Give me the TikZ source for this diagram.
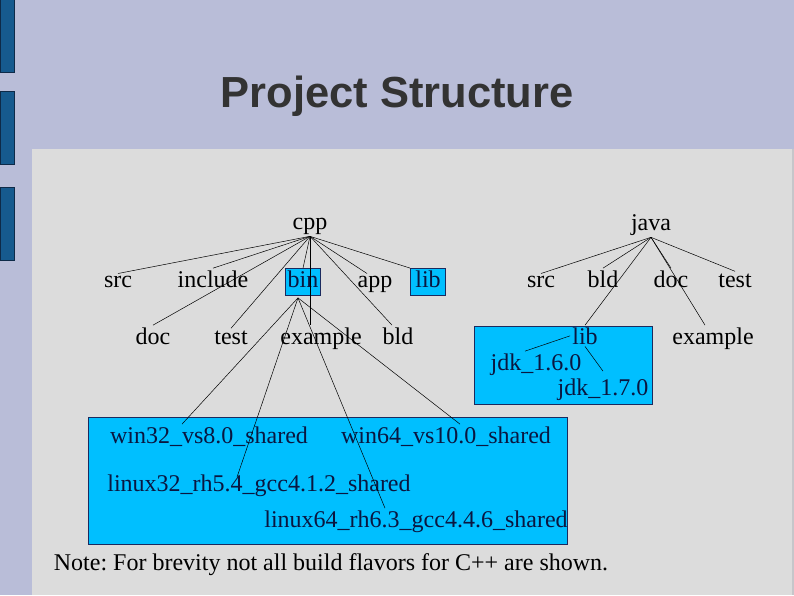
\documentclass[tikz,border=0pt]{standalone}
\usepackage{fontspec}
\setmainfont{Liberation Serif}
\newfontfamily\titlefont{Liberation Sans}
\usepackage{tikz}
\usetikzlibrary{positioning, calc}
\definecolor{slideBack}{HTML}{B9BDD8}
\definecolor{panelGray}{HTML}{DCDCDC}
\definecolor{panelEdge}{HTML}{C6C6CA}
\definecolor{barBlue}{HTML}{165A8E}
\definecolor{barEdge}{HTML}{0E2A48}
\definecolor{boxCyan}{HTML}{00BFFF}
\definecolor{boxEdge}{HTML}{1B2A5E}
\definecolor{boxText}{HTML}{0A1640}
\definecolor{titleGray}{HTML}{333333}
\frenchspacing

\begin{document}
\begin{tikzpicture}[
    x=1pt, y=-1pt,
    dir/.style={font=\fontsize{24}{28}\selectfont, inner sep=2pt, anchor=base},
    dirbox/.style={dir, fill=boxCyan, draw=boxEdge, line width=0.8pt, text=boxText,
                   text height=16pt, text depth=6pt, inner sep=2.5pt, minimum width=35pt},
    flavor/.style={dir, text=boxText},
    link/.style={line width=0.5pt, black},
    bar/.style={fill=barBlue, draw=barEdge, line width=0.8pt},
    group/.style={fill=boxCyan, draw=boxEdge, line width=0.8pt},
]
\useasboundingbox (0,0) rectangle (794,595);

% ── Slide background ──
\fill[slideBack] (0,0) rectangle (794,595);
\fill[panelEdge] (32,149) rectangle (794,595);
\fill[panelGray] (32,149) rectangle (792,595);
\draw[bar] (0,-2) rectangle (14,72);
\draw[bar] (0,91) rectangle (14,164);
\draw[bar] (0,187) rectangle (14,260);

% ── Title ──
\node[font=\titlefont\bfseries\fontsize{43.5}{50}\selectfont, text=titleGray, anchor=base]
    (title) at (397,107) {Project Structure};

% ── Group boxes ──
\draw[group] (474,326) rectangle (652,404);
\draw[group] (88,417) rectangle (567,544);

% ── cpp tree ──
\node[dir] (cpp) at (310,229) {cpp};
\node[dir] (src) at (118,287) {src};
\node[dir] (inc) at (213,287) {include};
\node[dirbox] (bin) at (303,287) {bin};
\node[dir] (app) at (375,287) {app};
\node[dirbox] (lib) at (428,287) {lib};
\node[dir] (doc) at (153,344) {doc};
\node[dir] (test) at (231,344) {test};
\node[dir] (example) at (321,344) {example};
\node[dir] (bld) at (398,344) {bld};

% ── Build flavors ──
\node[flavor] (w32) at (209,443) {win32\_vs8.0\_shared};
\node[flavor] (w64) at (446,443) {win64\_vs10.0\_shared};
\node[flavor] (l32) at (259,491) {linux32\_rh5.4\_gcc4.1.2\_shared};
\node[flavor] (l64) at (416,527) {linux64\_rh6.3\_gcc4.4.6\_shared};

% ── java tree ──
\node[dir] (java) at (651,230) {java};
\node[dir] (jsrc) at (541,287) {src};
\node[dir] (jbld) at (603,287) {bld};
\node[dir] (jdoc) at (671,287) {doc};
\node[dir] (jtest) at (735,287) {test};
\node[flavor] (jlib) at (585,344) {lib};
\node[dir] (jex) at (713,344) {example};
\node[flavor] (jdk16) at (536,370) {jdk\_1.6.0};
\node[flavor] (jdk17) at (603,395) {jdk\_1.7.0};

% ── Note ──
\node[dir] (note) at (331,570) {Note: For brevity not all build flavors for C++ are shown.};

% ── Links ──
\foreach \c in {src, inc, bin, doc, test}
    \draw[link] (cpp.south) -- (\c.north);
\draw[link] (cpp.south) -- ([xshift=-8pt]app.north);
\draw[link] (cpp.south) -- (lib.north west);
\draw[link] (cpp.south) -- ([xshift=-6pt]bld.north);
\draw[link] (cpp.south) -- (cpp.south |- example.north);

\coordinate (binfoot) at ([xshift=-5pt,yshift=-2pt]bin.south);
\draw[link] (binfoot) -- ([xshift=-27pt]w32.north);
\draw[link] (binfoot) -- ([xshift=-22pt,yshift=-5pt]l32.north);
\draw[link] (binfoot) -- ([xshift=-31pt]l64.north);
\draw[link] (binfoot) -- ([xshift=14pt]w64.north);

\foreach \c in {jsrc, jbld, jlib, jdoc, jtest}
    \draw[link] (java.south) -- (\c.north);
\draw[link] (java.south) -- ([xshift=-8pt]jex.north);
\draw[link] (jlib.west) -- ([xshift=-11pt]jdk16.north);
\draw[link] (jlib.south) -- ([yshift=5pt]jdk17.north);

\end{tikzpicture}
\end{document}
